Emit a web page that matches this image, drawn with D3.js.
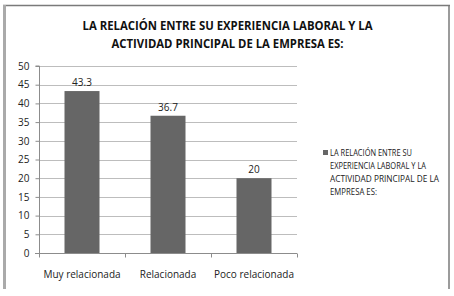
<!DOCTYPE html>
<html><head><meta charset="utf-8">
<script src="https://cdn.jsdelivr.net/npm/d3@7"></script>
<style>html,body{margin:0;padding:0;background:#fff;}svg{display:block;}</style>
</head><body>
<script>
const categories = ["Muy relacionada", "Relacionada", "Poco relacionada"];
const values = [43.3, 36.7, 20];
const valueLabels = ["43.3", "36.7", "20"];
const yTicks = [0, 5, 10, 15, 20, 25, 30, 35, 40, 45, 50];
const titleLines = ["LA RELACIÓN ENTRE SU EXPERIENCIA LABORAL Y LA", "ACTIVIDAD PRINCIPAL DE LA EMPRESA ES:"];
const legendLines = ["LA RELACIÓN ENTRE SU", "EXPERIENCIA LABORAL Y LA", "ACTIVIDAD PRINCIPAL DE LA", "EMPRESA ES:"];

const W = 454, H = 296;
const font = "'Open Sans','Noto Sans',sans-serif";
const svg = d3.select("body").append("svg").attr("width", W).attr("height", H);
svg.append("rect").attr("width", W).attr("height", H).attr("fill", "#fff");

// chart border
svg.append("line").attr("x1", 3).attr("x2", 450).attr("y1", 5.5).attr("y2", 5.5).attr("stroke", "#7a7a7a").attr("stroke-width", 1.5);
svg.append("line").attr("x1", 4.5).attr("x2", 4.5).attr("y1", 5).attr("y2", 289).attr("stroke", "#aaaaaa").attr("stroke-width", 3);
svg.append("line").attr("x1", 449).attr("x2", 449).attr("y1", 5).attr("y2", 289).attr("stroke", "#7a7a7a").attr("stroke-width", 1.5);

// title
const titleW = [290, 232];
svg.append("g").selectAll("text").data(titleLines).join("text")
  .attr("x", 227.5).attr("y", (d, i) => 29.5 + i * 18.5)
  .attr("text-anchor", "middle").attr("font-family", font).attr("font-weight", "bold")
  .attr("font-size", 12).attr("fill", "#111")
  .attr("textLength", (d, i) => titleW[i]).attr("lengthAdjust", "spacingAndGlyphs")
  .text(d => d);

const x = d3.scaleBand().domain(categories).range([39, 297]).padding(0);
const y = d3.scaleLinear().domain([0, 50]).range([253, 66]);
const barW = 35;

// gridlines
svg.append("g").selectAll("line").data(yTicks.filter(t => t > 0)).join("line")
  .attr("x1", 39).attr("x2", 297).attr("y1", d => Math.round(y(d)) + 0.5).attr("y2", d => Math.round(y(d)) + 0.5)
  .attr("stroke", "#bdbdbd").attr("stroke-width", 1);

// y axis
const yAxis = svg.append("g").attr("transform", "translate(39.5,0)")
  .call(d3.axisLeft(y).tickValues(yTicks).tickSize(4).tickPadding(6).tickFormat(d3.format("d")));
yAxis.select(".domain").attr("stroke", "#8c8c8c").attr("d", `M-4,${y(50)}H0V${y(0)}`);
yAxis.selectAll(".tick line").attr("stroke", "#8c8c8c");
yAxis.selectAll(".tick text").attr("font-family", font).attr("font-size", 10).attr("fill", "#222");

// x axis
const xAxis = svg.append("g").attr("transform", `translate(0,${Math.round(y(0)) + 0.5})`);
xAxis.append("line").attr("x1", 35).attr("x2", 297).attr("stroke", "#8c8c8c");
const bounds = categories.map(c => x(c)).concat([x(categories[categories.length - 1]) + x.bandwidth()]);
xAxis.selectAll("line.t").data(bounds).join("line").attr("class", "t")
  .attr("x1", d => Math.round(d) + 0.5).attr("x2", d => Math.round(d) + 0.5).attr("y1", 0).attr("y2", 4).attr("stroke", "#8c8c8c");
xAxis.selectAll("text").data(categories).join("text")
  .attr("x", d => x(d) + x.bandwidth() / 2).attr("y", 24)
  .attr("text-anchor", "middle").attr("font-family", font).attr("font-size", 10).attr("fill", "#222")
  .text(d => d);

// bars
svg.append("g").selectAll("rect").data(values).join("rect")
  .attr("x", (d, i) => x(categories[i]) + x.bandwidth() / 2 - barW / 2)
  .attr("y", d => y(d)).attr("width", barW).attr("height", d => y(0) - y(d))
  .attr("fill", "#666666");

// value labels
svg.append("g").selectAll("text").data(values).join("text")
  .attr("x", (d, i) => x(categories[i]) + x.bandwidth() / 2)
  .attr("y", d => y(d) - 5)
  .attr("text-anchor", "middle").attr("font-family", font).attr("font-size", 10).attr("fill", "#222")
  .text((d, i) => valueLabels[i]);

// legend
svg.append("rect").attr("x", 323).attr("y", 150).attr("width", 5).attr("height", 5).attr("fill", "#666666");
const legW = [82, 96, 109, 47];
svg.append("g").selectAll("text").data(legendLines).join("text")
  .attr("x", 330).attr("y", (d, i) => 155.5 + i * 13)
  .attr("font-family", font).attr("font-size", 9.5).attr("fill", "#222")
  .attr("textLength", (d, i) => legW[i]).attr("lengthAdjust", "spacingAndGlyphs")
  .text(d => d);
</script>
</body></html>
